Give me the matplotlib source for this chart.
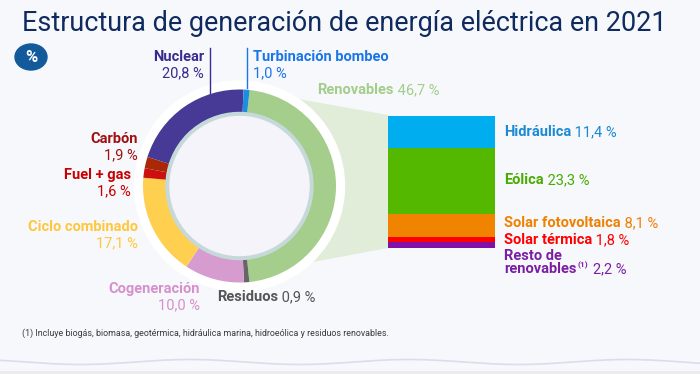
import numpy as np
import matplotlib
matplotlib.use("Agg")
import matplotlib.pyplot as plt
from matplotlib.patches import Circle, Polygon, Ellipse

# data
gen_labels = ["Renovables", "Residuos", "Cogeneración", "Ciclo combinado",
              "Fuel + gas", "Carbón", "Nuclear", "Turbinación bombeo"]
gen_values = [46.7, 0.9, 10.0, 17.1, 1.6, 1.9, 20.8, 1.0]
gen_colors = ["#a5cd8c", "#666666", "#d79ccf", "#ffcf50",
              "#cc1010", "#a82808", "#463a96", "#1d8de0"]

ren_labels = ["Hidráulica", "Eólica", "Solar fotovoltaica", "Solar térmica", "Resto de renovables"]
ren_values = [11.4, 23.3, 8.1, 1.8, 2.2]
ren_colors = ["#00aef0", "#55b800", "#f08300", "#ff0000", "#8010a8"]

title = "Estructura de generación de energía eléctrica en 2021"
footnote = "(1) Incluye biogás, biomasa, geotérmica, hidráulica marina, hidroeólica y residuos renovables."

def fmt(v):
    return f"{v:.1f}".replace(".", ",") + " %"

W, H = 700, 374
BG = "#f7f8fc"
plt.rcParams["font.family"] = ["Roboto", "DejaVu Sans"]

fig = plt.figure(figsize=(7, 3.74), dpi=100, facecolor=BG)
ax = fig.add_axes([0, 0, 1, 1])
ax.set_facecolor(BG)

def Y(y):
    return H - y

cx, cy = 239.5, Y(186)

# donut
ax.pie(gen_values, colors=gen_colors, startangle=84, counterclock=False,
       radius=96.5, center=(cx, cy),
       wedgeprops=dict(width=23, edgecolor="none", zorder=2))
ax.add_patch(Circle((cx, cy), 105, color="white", zorder=1))
ax.add_patch(Circle((cx, cy), 73.5, color="#c5d9d9", zorder=3))
ax.add_patch(Circle((cx, cy), 69.5, color="#f6f4fb", zorder=4))

# connector to the bar
ax.add_patch(Polygon([(293, Y(98)), (388, Y(115)), (388, Y(248)), (313, Y(262)), (cx, cy)],
                     closed=True, color="#e1ecd9", zorder=0.5, lw=0))

ax.set_xlim(0, W)
ax.set_ylim(0, H)
ax.set_aspect("equal")
ax.axis("off")

# stacked bar of renewables
bx = fig.add_axes([388 / W, 1 - 248 / H, (495 - 388) / W, (248 - 116) / H])
bottoms = np.concatenate([[0], np.cumsum(ren_values)[:-1]])
bx.bar(0, ren_values, bottom=bottoms, width=1, color=ren_colors, edgecolor="none")
bx.set_xlim(-0.5, 0.5)
bx.set_ylim(sum(ren_values), 0)
bx.axis("off")

# title, fitted to the width of the reference
t = ax.text(22, Y(31), title, fontsize=20, color="#0f2a5f", va="baseline", ha="left")
fig.canvas.draw()
t.set_fontsize(20 * 643 / t.get_window_extent().width)

# % badge
ax.add_patch(Ellipse((31, Y(57)), 32, 26, color="#135a9b", zorder=5))
ax.text(31, Y(57), "%", color="white", fontsize=12, fontweight="bold",
        ha="center", va="center", zorder=6)

FS = 10.5

def pair(x, y, name, val, color):
    # bold name followed by a regular value on the same line
    a = ax.text(x, Y(y), name, color=color, fontsize=FS, fontweight="bold", ha="left", va="center")
    ax.annotate(" " + val, xy=(1, 0), xycoords=a, va="bottom", ha="left",
                color=color, fontsize=FS)
    return a

def two_lines(x, y, name, val, color, ha="right", dy=16):
    ax.text(x, Y(y), name, color=color, fontsize=FS, fontweight="bold", ha=ha, va="center")
    ax.text(x, Y(y + dy), val, color=color, fontsize=FS, ha=ha, va="center")

txt = dict(zip(gen_labels, gen_values))
two_lines(204, 57, "Nuclear", fmt(txt["Nuclear"]), "#3b2a8e")
two_lines(253, 57, "Turbinación bombeo", fmt(txt["Turbinación bombeo"]), "#1a75e8", ha="left")
pair(317, 90, "Renovables", fmt(txt["Renovables"]), "#a3cd8a")
two_lines(138, 139, "Carbón", fmt(txt["Carbón"]), "#a01010")
two_lines(131, 175, "Fuel + gas", fmt(txt["Fuel + gas"]), "#c80000")
two_lines(138, 227, "Ciclo combinado", fmt(txt["Ciclo combinado"]), "#ffc83c")
two_lines(200, 289, "Cogeneración", fmt(txt["Cogeneración"]), "#d690cc")
pair(217, 297, "Residuos", fmt(txt["Residuos"]), "#555555")

ax.plot([210, 210], [Y(48), Y(95)], color="#3b2a8e", lw=1, zorder=1.5)
ax.plot([247, 247], [Y(48), Y(88)], color="#1a75e8", lw=1, zorder=1.5)

ren_text = ["#1a8ad4", "#48ac00", "#f08000", "#ff0000", "#7a1fa2"]
ren_y = [132, 180, 223, 240]
for lab, v, c, yy in zip(ren_labels[:4], ren_values[:4], ren_text[:4], ren_y):
    pair(504, yy, lab, fmt(v), c)

# "Resto de / renovables(1) 2,2 %"
c = ren_text[4]
ax.text(504, Y(256), "Resto de", color=c, fontsize=FS, fontweight="bold", ha="left", va="center")
r = ax.text(504, Y(269), "renovables", color=c, fontsize=FS, fontweight="bold", ha="left", va="center")
ax.annotate("(1)", xy=(1, 0.5), xycoords=r, xytext=(0.5, 0), textcoords="offset points",
            va="bottom", ha="left", color=c, fontsize=6, fontweight="bold")
ax.annotate(fmt(ren_values[4]), xy=(1, 0), xycoords=r, xytext=(12, 0),
            textcoords="offset points", va="bottom", ha="left", color=c, fontsize=FS)

# footnote
ax.text(22, Y(333), footnote, fontsize=6.4, color="#3a3a3a", ha="left", va="center")

# faint wave at the bottom
xs = np.linspace(0, W, 300)
ax.plot(xs, Y(362) + 2.5 * np.sin(xs / W * 2 * np.pi * 3.2 + 2.4), color="#dcdcec", lw=1.2)
ax.axhspan(0, Y(371), color="#ececf0", lw=0)

fig.savefig("out.png", dpi=100, facecolor=BG)
